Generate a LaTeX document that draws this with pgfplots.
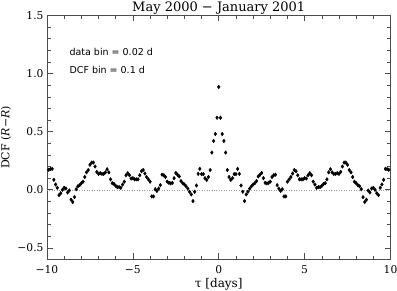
\documentclass[border=0pt]{standalone}
\usepackage{pgfplots}
\pgfplotsset{compat=1.18}
\usepackage{fontspec}
\setmainfont{DejaVu Serif}
\newfontfamily\annfont{DejaVu Sans}
\pgfplotstableread{
t y
0.0 0.885
0.1 0.62
0.2 0.48
0.3 0.42
0.4 0.32
0.5 0.17
0.6 0.11
0.7 0.085
0.8 0.10
0.9 0.135
1.0 0.135
1.1 0.18
1.2 0.137
1.3 0.037
1.4 -0.017
1.5 -0.097
1.6 -0.04
1.7 -0.017
1.8 0.01
1.9 0.03
2.0 0.046
2.1 0.057
2.2 0.075
2.3 0.115
2.4 0.13
2.5 0.145
2.6 0.10
2.7 0.06
2.8 0.055
2.9 0.06
3.0 0.07
3.1 0.11
3.2 0.125
3.3 0.13
3.4 0.04
3.5 0.01
3.6 -0.01
3.7 0.005
3.8 -0.057
3.9 -0.057
4.0 0.07
4.1 0.09
4.2 0.11
4.3 0.14
4.4 0.17
4.5 0.16
4.6 0.125
4.7 0.09
4.8 0.09
4.9 0.09
5.0 0.10
5.1 0.097
5.2 0.125
5.3 0.143
5.4 0.125
5.5 0.07
5.6 0.045
5.7 0.017
5.8 0.023
5.9 0.023
6.0 0.034
6.1 0.05
6.2 0.057
6.3 0.09
6.4 0.15
6.5 0.177
6.6 0.15
6.7 0.137
6.8 0.137
6.9 0.143
7.0 0.137
7.1 0.154
7.2 0.20
7.3 0.234
7.4 0.234
7.5 0.215
7.6 0.17
7.7 0.15
7.8 0.11
7.9 0.07
8.0 0.057
8.1 0.04
8.2 0.03
8.3 0.005
8.4 -0.063
8.5 -0.105
8.6 -0.085
8.7 -0.006
8.8 -0.023
8.9 0.011
9.0 0.017
9.1 0.0
9.2 -0.03
9.3 -0.046
9.4 0.017
9.5 0.046
9.6 0.086
9.7 0.18
9.8 0.178
9.9 0.172
}\rightdata
\pgfplotstableread{
t y
-0.1 0.62
-0.2 0.48
-0.3 0.42
-0.4 0.32
-0.5 0.17
-0.6 0.11
-0.7 0.085
-0.8 0.10
-0.9 0.135
-1.0 0.135
-1.1 0.18
-1.2 0.137
-1.3 0.037
-1.4 -0.017
-1.5 -0.097
-1.6 -0.04
-1.7 -0.017
-1.8 0.01
-1.9 0.03
-2.0 0.046
-2.1 0.057
-2.2 0.075
-2.3 0.115
-2.4 0.13
-2.5 0.145
-2.6 0.10
-2.7 0.06
-2.8 0.055
-2.9 0.06
-3.0 0.07
-3.1 0.11
-3.2 0.125
-3.3 0.13
-3.4 0.04
-3.5 0.01
-3.6 -0.01
-3.7 0.005
-3.8 -0.057
-3.9 -0.057
-4.0 0.07
-4.1 0.09
-4.2 0.11
-4.3 0.14
-4.4 0.17
-4.5 0.16
-4.6 0.125
-4.7 0.09
-4.8 0.09
-4.9 0.09
-5.0 0.10
-5.1 0.097
-5.2 0.125
-5.3 0.143
-5.4 0.125
-5.5 0.07
-5.6 0.045
-5.7 0.017
-5.8 0.023
-5.9 0.023
-6.0 0.034
-6.1 0.05
-6.2 0.057
-6.3 0.09
-6.4 0.15
-6.5 0.177
-6.6 0.15
-6.7 0.137
-6.8 0.137
-6.9 0.143
-7.0 0.137
-7.1 0.154
-7.2 0.20
-7.3 0.234
-7.4 0.234
-7.5 0.215
-7.6 0.17
-7.7 0.15
-7.8 0.11
-7.9 0.07
-8.0 0.057
-8.1 0.04
-8.2 0.03
-8.3 0.005
-8.4 -0.063
-8.5 -0.105
-8.6 -0.085
-8.7 -0.006
-8.8 -0.023
-8.9 0.011
-9.0 0.017
-9.1 0.0
-9.2 -0.03
-9.3 -0.046
-9.4 0.017
-9.5 0.046
-9.6 0.086
-9.7 0.18
-9.8 0.178
-9.9 0.172
}\leftdata
\begin{document}
\begin{tikzpicture}
\begin{axis}[
  scale only axis, width=343.5bp, height=244bp,
  xmin=-10, xmax=10, ymin=-0.6, ymax=1.5,
  xtick={-10,-5,0,5,10}, xticklabels={−10,−5,0,5,10},
  ytick={-0.5,0,0.5,1,1.5}, yticklabels={−0.5,0.0,0.5,1.0,1.5},
  minor x tick num=4, minor y tick num=4,
  tick align=inside, major tick length=6bp, minor tick length=3.5bp,
  axis line style={black!70, line width=1bp},
  every tick/.style={black!70, line width=0.6bp},
  ticklabel style={font=\fontsize{10.7bp}{12bp}\selectfont},
  xticklabel style={yshift=-3bp},
  every axis title/.style={at={(axis description cs:0.5,1)}, anchor=base, yshift=3.5bp, font=\fontsize{13bp}{15bp}\selectfont},
  title={May 2000 − January 2001},
  xlabel={τ [days]},
  xlabel style={at={(axis description cs:0.5,0)}, anchor=base, yshift=-28bp, font=\fontsize{12bp}{14bp}\selectfont},
  ylabel={DCF (\textit{R}−\textit{R})},
  ylabel style={at={(axis description cs:-0.1194,0.5)}, rotate=0, anchor=center, font=\fontsize{11bp}{13bp}\selectfont},
]
\addplot[black!40, dotted, line width=0.5bp] coordinates {(-10,0) (10,0)};
\addplot[only marks, mark=diamond*, mark size=1.8bp, black] table[x=t,y=y] {\rightdata};
\addplot[only marks, mark=diamond*, mark size=1.8bp, black] table[x=t,y=y] {\leftdata};
\node[anchor=base west, font=\annfont\fontsize{9.5bp}{11bp}\selectfont] at (axis cs:-8.89,1.157) {data bin = 0.02 d};
\node[anchor=base west, font=\annfont\fontsize{9.5bp}{11bp}\selectfont] at (axis cs:-8.89,0.998) {DCF bin = 0.1 d};
\end{axis}
\pgfresetboundingbox
\path ([shift={(-47bp,-31.5bp)}]current axis.south west) rectangle ([shift={(6.5bp,15.5bp)}]current axis.north east);
\end{tikzpicture}
\end{document}
